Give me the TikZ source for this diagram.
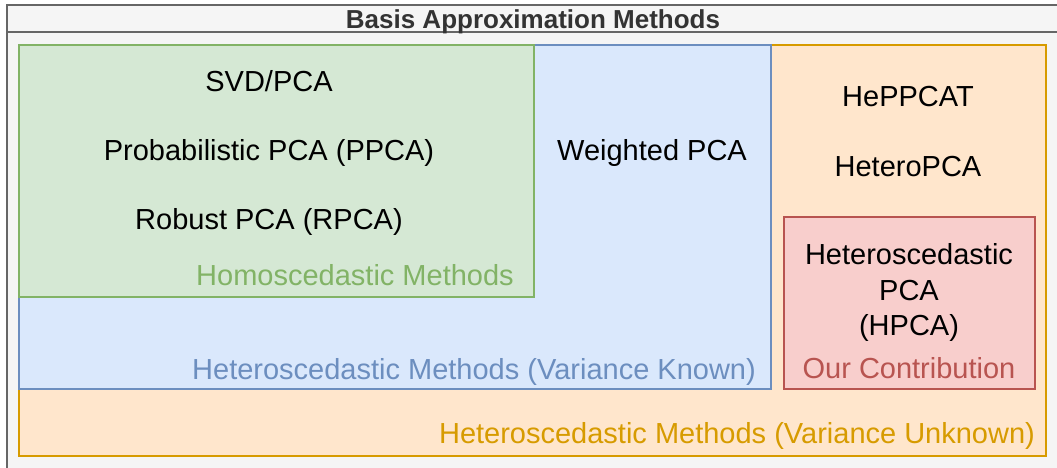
\documentclass[tikz,border=0pt]{standalone}
\usepackage{fontspec}
\setmainfont{Liberation Sans}
\definecolor{bgfill}{HTML}{F5F5F5}
\definecolor{frameline}{HTML}{666666}
\definecolor{titlecol}{HTML}{333333}
\definecolor{orfill}{HTML}{FFE6CC}
\definecolor{orline}{HTML}{D79B00}
\definecolor{blfill}{HTML}{DAE8FC}
\definecolor{blline}{HTML}{6C8EBF}
\definecolor{grfill}{HTML}{D5E8D4}
\definecolor{grline}{HTML}{82B366}
\definecolor{rdfill}{HTML}{F8CECC}
\definecolor{rdline}{HTML}{B85450}
\tikzset{
  region/.style={draw, line width=1.3pt, rectangle, inner sep=0pt},
  item/.style={font=\fontsize{29}{35}\selectfont, text=black, inner sep=0pt, align=center, anchor=base},
  tag/.style={font=\fontsize{29}{35}\selectfont, inner sep=0pt, anchor=base},
}
\begin{document}
\begin{tikzpicture}[x=1pt,y=-1pt]
\useasboundingbox (0,0) rectangle (1057,467);
\begin{scope}
\clip (0,0) rectangle (1057,467);
\fill[white] (0,0) rectangle (1057,467);
\draw[frameline, fill=bgfill, line width=1.5pt] (7,5) rectangle (1070,480);
\draw[frameline, line width=1.5pt] (7,32) -- (1070,32);
\end{scope}
\node[font=\bfseries\fontsize{26}{30}\selectfont, text=titlecol, inner sep=0pt, anchor=base] (title) at (533,28) {Basis Approximation Methods};
% regions
\path[region, draw=orline, fill=orfill] (19,45) rectangle (1046,456);
\path[region, draw=blline, fill=blfill] (19,45) rectangle (771,389);
\path[region, draw=grline, fill=grfill] (19,45) rectangle (534,297);
\path[region, draw=rdline, fill=rdfill] (784,217) rectangle (1035,389);
% items
\node[item] (svd) at (269,91) {SVD/PCA};
\node[item] (ppca) at (269,160) {Probabilistic PCA (PPCA)};
\node[item] (rpca) at (269,229) {Robust PCA (RPCA)};
\node[tag, text=grline] (homo) at (355,285) {Homoscedastic Methods};
\node[item] (wpca) at (652,160) {Weighted PCA};
\node[tag, text=blline] (known) at (474,379) {Heteroscedastic Methods (Variance Known)};
\node[item] (heppcat) at (908,106) {HePPCAT};
\node[item] (hetero) at (908,176) {HeteroPCA};
\node[item, anchor=center, font=\fontsize{29}{35.5}\selectfont] (hpca) at (909,292.5) {Heteroscedastic\\PCA\\(HPCA)};
\node[tag, text=rdline] (ours) at (909,378) {Our Contribution};
\node[tag, text=orline] (unknown) at (737,443) {Heteroscedastic Methods (Variance Unknown)};
\end{tikzpicture}
\end{document}
